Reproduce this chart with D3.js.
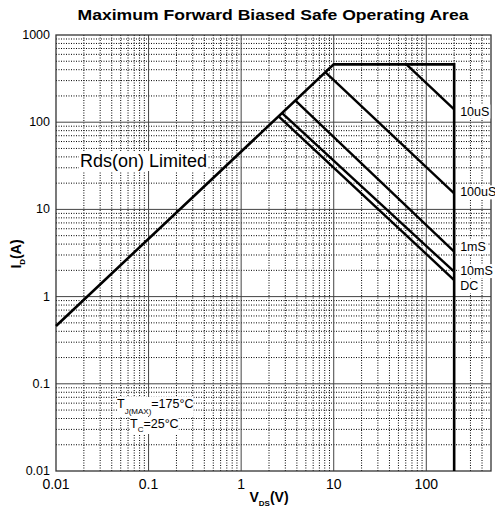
<!DOCTYPE html>
<html>
<head>
<meta charset="utf-8">
<script src="https://cdnjs.cloudflare.com/ajax/libs/d3/7.8.5/d3.min.js"></script>
<style>
  body { margin: 0; background: #fff; }
  text { font-family: "Liberation Sans", Arial, sans-serif; }
</style>
</head>
<body>
<svg width="495" height="515"></svg>
<script>

// axis ticks
var xTicks = [0.01, 0.1, 1, 10, 100];
var xTickLabels = ['0.01', '0.1', '1', '10', '100'];
var yTicks = [0.01, 0.1, 1, 10, 100, 1000];
var yTickLabels = ['0.01', '0.1', '1', '10', '100', '1000'];

// safe operating boundary: Rds(on) limit, max current, max voltage  [V, A]
var boundary = [[0.01, 0.46], [10, 460], [200, 460], [200, 0.01]];

// pulse lines [V, A]
var pulse10us = [[61, 460], [200, 140]];
var pulse100us = [[8.1, 374], [200, 15.3]];
var pulse1ms = [[3.86, 177], [200, 3.27]];
var pulse10ms = [[2.77, 127], [200, 1.93]];
var pulseDC = [[2.54, 117], [200, 1.55]];
var pulseNames = ['10uS', '100uS', '1mS', '10mS', 'DC'];

var svg = d3.select('svg');
var plotL = 56, plotR = 491, plotT = 35, plotB = 471;

var x = d3.scaleLog().domain([0.01, 500]).range([plotL, plotR]);
var y = d3.scaleLog().domain([0.01, 1000]).range([plotB, plotT]);

// minor grid values
function minors(domain){
  var out = [];
  for (var d = domain[0]; d < domain[1]; d *= 10) {
    for (var k = 2; k <= 9; k++) {
      var v = +(d * k).toPrecision(3);
      if (v < domain[1]) out.push(v);
    }
  }
  return out;
}

var grid = svg.append('g');
grid.selectAll('.xminor').data(minors(x.domain())).enter().append('line')
  .attr('x1', function(d){ return x(d); }).attr('x2', function(d){ return x(d); })
  .attr('y1', plotT).attr('y2', plotB)
  .attr('stroke', '#000').attr('stroke-width', 1).attr('stroke-dasharray', '1,1.5');
grid.selectAll('.yminor').data(minors(y.domain())).enter().append('line')
  .attr('y1', function(d){ return y(d); }).attr('y2', function(d){ return y(d); })
  .attr('x1', plotL).attr('x2', plotR)
  .attr('stroke', '#000').attr('stroke-width', 1).attr('stroke-dasharray', '1,1.5');
grid.selectAll('.xmajor').data(xTicks.slice(1)).enter().append('line')
  .attr('x1', function(d){ return x(d); }).attr('x2', function(d){ return x(d); })
  .attr('y1', plotT).attr('y2', plotB)
  .attr('stroke', '#444').attr('stroke-width', 1);
grid.selectAll('.ymajor').data(yTicks.slice(1, -1)).enter().append('line')
  .attr('y1', function(d){ return y(d); }).attr('y2', function(d){ return y(d); })
  .attr('x1', plotL).attr('x2', plotR)
  .attr('stroke', '#444').attr('stroke-width', 1);

svg.append('rect')
  .attr('x', plotL).attr('y', plotT).attr('width', plotR - plotL).attr('height', plotB - plotT)
  .attr('fill', 'none').attr('stroke', '#333').attr('stroke-width', 1.3);

// tick labels
svg.append('g').selectAll('text').data(yTicks).enter().append('text')
  .attr('x', 50).attr('y', function(d){ return y(d); })
  .attr('dy', '0.32em').attr('text-anchor', 'end')
  .style('font-size', '12.5px')
  .text(function(d, i){ return yTickLabels[i]; });
svg.append('g').selectAll('text').data(xTicks).enter().append('text')
  .attr('x', function(d){ return x(d); }).attr('y', 489)
  .attr('text-anchor', 'middle')
  .style('font-size', '14px')
  .text(function(d, i){ return xTickLabels[i]; });

// curves
var line = d3.line().x(function(d){ return x(d[0]); }).y(function(d){ return y(d[1]); });
var curves = [pulse10us, pulse100us, pulse1ms, pulse10ms, pulseDC];
svg.append('g').selectAll('path').data(curves).enter().append('path')
  .attr('d', line).attr('fill', 'none').attr('stroke', '#000').attr('stroke-width', 2.4);
svg.append('path').datum(boundary)
  .attr('d', line).attr('fill', 'none').attr('stroke', '#000')
  .attr('stroke-width', 2.6).attr('stroke-linejoin', 'miter');

// text with white backing
function boxed(g, pad){
  var b = g.node().getBBox();
  g.insert('rect', ':first-child')
    .attr('x', b.x - pad).attr('y', b.y).attr('width', b.width + pad * 2).attr('height', b.height)
    .attr('fill', '#fff');
}

var labelDy = [1.7, -1.3, -5, -1, 5.7];
curves.forEach(function(c, i){
  var end = c[c.length - 1];
  var g = svg.append('g');
  g.append('text')
    .attr('x', x(end[0]) + 6).attr('y', y(end[1]) + labelDy[i])
    .attr('dy', '0.35em')
    .style('font-size', '12.5px')
    .text(pulseNames[i]);
  boxed(g, 1);
});

var rds = svg.append('g');
rds.append('text').attr('x', 80).attr('y', 167).style('font-size', '18px').text('Rds(on) Limited');
boxed(rds, 1);

var tj = svg.append('g');
var t1 = tj.append('text').attr('x', 117).attr('y', 408).style('font-size', '12.5px');
t1.append('tspan').text('T');
t1.append('tspan').attr('dy', 6).style('font-size', '8px').text('J(MAX)');
t1.append('tspan').attr('dy', -6).text('=175\u00b0C');
boxed(tj, 0);

var tc = svg.append('g');
var t2 = tc.append('text').attr('x', 130).attr('y', 428).style('font-size', '12.5px');
t2.append('tspan').text('T');
t2.append('tspan').attr('dy', 4).style('font-size', '8px').text('C');
t2.append('tspan').attr('dy', -4).text('=25\u00b0C');
boxed(tc, 0);

// titles
svg.append('text').attr('x', 273).attr('y', 20).attr('text-anchor', 'middle')
  .attr('textLength', 391).attr('lengthAdjust', 'spacingAndGlyphs')
  .style('font-size', '15.5px').style('font-weight', 'bold')
  .text('Maximum Forward Biased Safe Operating Area');

var xt = svg.append('text').attr('x', 269).attr('y', 502).attr('text-anchor', 'middle')
  .style('font-size', '14px').style('font-weight', 'bold');
xt.append('tspan').text('V');
xt.append('tspan').attr('dy', 4).style('font-size', '8px').text('DS');
xt.append('tspan').attr('dy', -4).text('(V)');

var yt = svg.append('text').attr('transform', 'translate(21,254) rotate(-90)')
  .attr('text-anchor', 'middle')
  .style('font-size', '14px').style('font-weight', 'bold');
yt.append('tspan').text('I');
yt.append('tspan').attr('dy', 4).style('font-size', '8px').text('D');
yt.append('tspan').attr('dy', -4).text('(A)');

</script>
</body>
</html>
